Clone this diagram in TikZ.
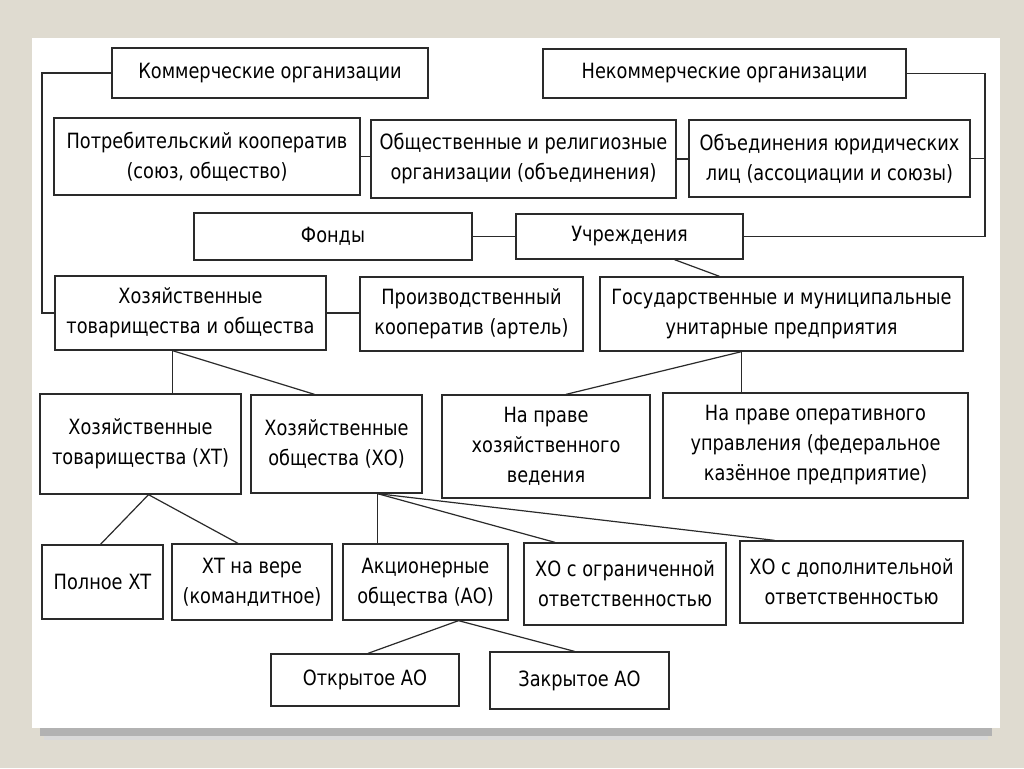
\documentclass[tikz,border=0pt]{standalone}
\usepackage{fontspec}
\setmainfont{DejaVu Sans}[FakeStretch=0.845]
\usetikzlibrary{calc}
\definecolor{pagebg}{HTML}{DFDBD0}
\definecolor{ink}{HTML}{2A2A2A}

\begin{document}
\begin{tikzpicture}[x=1pt,y=-1pt,
  blk/.style={draw=ink,line width=1.3pt,fill=white,align=center,inner sep=0pt,
    font=\fontsize{21}{30}\selectfont,text=black},
  link/.style={draw=ink,line width=1.2pt}]
\fill[pagebg] (0,0) rectangle (1024,768);
\useasboundingbox (0,0) rectangle (1024,768);
\fill[black!30] (40,728) rectangle (992,736);
\fill[black!15] (44,736) rectangle (988,740);
\fill[white] (32,38) rectangle (1000,728);

\node[blk,minimum width=316,minimum height=50] (kom) at (270,73) {Коммерческие организации};
\node[blk,minimum width=363,minimum height=49] (nekom) at (724.5,73.5) {Некоммерческие организации};
\node[blk,minimum width=306,minimum height=77] (potr) at (207,156.5) {Потребительский кооператив\\(союз, общество)};
\node[blk,minimum width=305,minimum height=78] (obsch) at (523.5,159) {Общественные и религиозные\\организации (объединения)};
\node[blk,minimum width=281,minimum height=77] (obyed) at (829.5,158.5) {Объединения юридических\\лиц (ассоциации и союзы)};
\node[blk,minimum width=278,minimum height=47] (fond) at (333,236.5) {Фонды};
\node[blk,minimum width=227,minimum height=45] (uchr) at (629.5,236.5) {Учреждения};
\node[blk,minimum width=271,minimum height=74] (hto) at (190.5,313) {Хозяйственные\\товарищества и общества};
\node[blk,minimum width=223,minimum height=74] (proizv) at (471.5,314) {Производственный\\кооператив (артель)};
\node[blk,minimum width=363,minimum height=74] (gos) at (781.5,314) {Государственные и муниципальные\\унитарные предприятия};
\node[blk,minimum width=201,minimum height=100] (ht) at (140.5,444) {Хозяйственные\\товарищества (ХТ)};
\node[blk,minimum width=171,minimum height=98] (ho) at (336.5,444) {Хозяйственные\\общества (ХО)};
\node[blk,minimum width=208,minimum height=103] (hozv) at (546,446.5) {На праве\\хозяйственного\\ведения};
\node[blk,minimum width=305,minimum height=105] (oper) at (815.5,445.5) {На праве оперативного\\управления (федеральное\\казённое предприятие)};
\node[blk,minimum width=121,minimum height=74] (poln) at (102.5,582) {Полное ХТ};
\node[blk,minimum width=160,minimum height=76] (vera) at (252,582) {ХТ на вере\\(командитное)};
\node[blk,minimum width=165,minimum height=76] (ao) at (425.5,582) {Акционерные\\общества (АО)};
\node[blk,minimum width=202,minimum height=82] (ogr) at (625,584) {ХО с ограниченной\\ответственностью};
\node[blk,minimum width=223,minimum height=82] (dop) at (851.5,582) {ХО с дополнительной\\ответственностью};
\node[blk,minimum width=188,minimum height=52] (oao) at (365,680) {Открытое АО};
\node[blk,minimum width=179,minimum height=57] (zao) at (579.5,680.5) {Закрытое АО};

\coordinate (lb) at (42,0);
\coordinate (rb) at (985,0);
\coordinate (ub) at ($(uchr.south)+(45,0)$);
\coordinate (gb) at ($(gos.south)+(-40,0)$);
\coordinate (hb) at ($(hto.south)+(-18,0)$);
\coordinate (tb) at ($(ht.south)+(8,0)$);
\coordinate (ob) at ($(ho.south)+(41,0)$);
\coordinate (ab) at ($(ao.south)+(33,0)$);

\draw[link] (kom.west) -| (lb |- hto.west) -- (hto.west);
\draw[link] (nekom.east) -| (rb |- uchr.east) -- (uchr.east);
\draw[link] (obyed.east) -- (rb |- obyed.east);
\draw[link] (potr.east) -- (obsch.west |- potr.east);
\draw[link] (obsch.east) -- (obyed.west |- obsch.east);
\draw[link] (fond.east) -- (uchr.west);
\draw[link] (hto.east) -- (proizv.west |- hto.east);
\draw[link] (ub) -- ($(gos.north)+(-62,0)$);
\draw[link] (gb) -- ($(hozv.north)+(20,0)$);
\draw[link] (gb) -- (gb |- oper.north);
\draw[link] (hb) -- (hb |- ht.north);
\draw[link] (hb) -- ($(ho.north)+(-22,0)$);
\draw[link] (tb) -- ($(poln.north)+(-2,0)$);
\draw[link] (tb) -- ($(vera.north)+(-14,0)$);
\draw[link] (ob) -- (ob |- ao.north);
\draw[link] (ob) -- ($(ogr.north)+(-70,0)$);
\draw[link] (ob) -- ($(dop.north)+(-77,0)$);
\draw[link] (ab) -- ($(oao.north)+(3,0)$);
\draw[link] (ab) -- ($(zao.north)+(-5,0)$);
\end{tikzpicture}
\end{document}
